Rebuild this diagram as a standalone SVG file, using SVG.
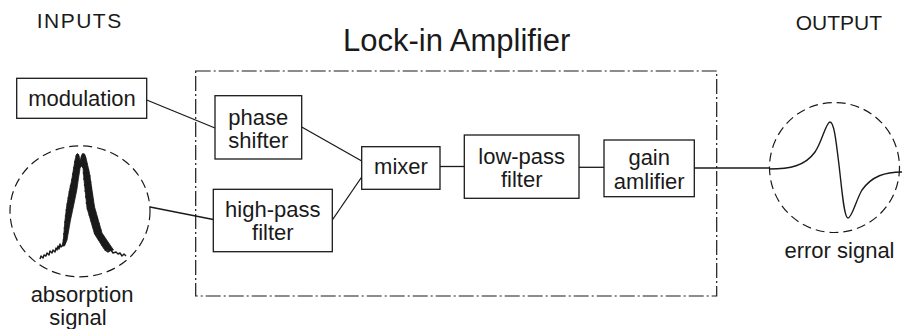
<svg xmlns="http://www.w3.org/2000/svg" width="902" height="329" viewBox="0 0 902 329">
  <style>
    text { font-family: "Liberation Sans", Arial, sans-serif; fill: #1a1a1a; }
    .lbl { font-size: 22px; text-anchor: middle; }
    .head { font-size: 21px; }
    .title { font-size: 31px; }
    .box { fill: #ffffff; stroke: #1a1a1a; stroke-width: 1.3; }
    .wire { fill: none; stroke: #1a1a1a; stroke-width: 1.3; }
    .frame { fill: none; stroke: #1a1a1a; stroke-width: 1.2; stroke-dasharray: 15 3 2 3; }
    .ring { fill: none; stroke: #1a1a1a; stroke-width: 1.2; stroke-dasharray: 9 5; }
    .trace { fill: none; stroke: #1a1a1a; stroke-width: 1.4; stroke-linejoin: round; }
    .band { fill: #1a1a1a; stroke: #1a1a1a; stroke-width: 0.8; stroke-linejoin: round; }
  </style>

  <!-- headings -->
  <text class="head" x="36.7" y="28.3" letter-spacing="1.5">INPUTS</text>
  <text class="head" x="882" y="30" text-anchor="end">OUTPUT</text>
  <text class="title" x="343" y="51">Lock-in Amplifier</text>

  <!-- amplifier enclosure -->
  <rect id="enclosure" class="frame" x="195.7" y="71" width="521" height="225"/>

  <!-- connectors -->
  <g id="connectors">
    <line class="wire" x1="146.7" y1="100" x2="215" y2="128"/>
    <line class="wire" x1="301.7" y1="127" x2="361.7" y2="161"/>
    <line class="wire" x1="332.3" y1="220" x2="361.7" y2="177"/>
    <line class="wire" x1="150" y1="207" x2="213.3" y2="219.5"/>
    <line class="wire" x1="440" y1="166.5" x2="464.3" y2="166.5"/>
    <line class="wire" x1="579" y1="167.3" x2="604" y2="167.3"/>
    <line class="wire" x1="694.3" y1="168" x2="769.5" y2="168"/>
  </g>

  <g id="modulation">
    <rect class="box" x="16.7" y="78.3" width="130" height="40"/>
    <text class="lbl" x="82" y="106">modulation</text>
  </g>

  <g id="phase-shifter">
    <rect class="box" x="215" y="95.7" width="86.7" height="63.3"/>
    <text class="lbl" x="258.3" y="124.5">phase</text>
    <text class="lbl" x="258.3" y="147.5">shifter</text>
  </g>

  <g id="high-pass-filter">
    <rect class="box" x="213.3" y="189.3" width="119" height="62.4"/>
    <text class="lbl" x="272.8" y="216.8">high-pass</text>
    <text class="lbl" x="272.8" y="239.8">filter</text>
  </g>

  <g id="mixer">
    <rect class="box" x="361.7" y="146.7" width="78.3" height="42.6"/>
    <text class="lbl" x="401" y="174.3">mixer</text>
  </g>

  <g id="low-pass-filter">
    <rect class="box" x="464.3" y="135" width="114.7" height="63.3"/>
    <text class="lbl" x="521.7" y="163.8">low-pass</text>
    <text class="lbl" x="521.7" y="186.9">filter</text>
  </g>

  <g id="gain-amplifier">
    <rect class="box" x="604" y="140" width="90.3" height="56.7"/>
    <text class="lbl" x="649.2" y="164.8">gain</text>
    <text class="lbl" x="649.2" y="188.5">amlifier</text>
  </g>

  <!-- noisy absorption peak -->
  <g id="absorption-signal">
    <ellipse class="ring" cx="80" cy="211.3" rx="70" ry="65.5"/>
    <!-- dense noise envelope on both flanks -->
    <polygon class="band" points="62,246 63.3,240 65,220 66.7,206 69.5,190 71.7,180 73.3,170 75,160 76.3,155 77.5,153.5 79,156 80,164 81,157 82.5,153.5 84.5,154 86,158 89.5,173 94.5,206.7 102,233 113.5,250 109,251 104,249 94.5,234 87,208 84,180 83,168 81.5,166 80,168 79.8,170 78.5,178 76.8,190 73.5,206 70.5,220 67,240 64.5,246"/>
    <path class="trace" stroke-width="1.2" d="M40,259 L41,256 43,258 44,255 46,256 47,253 49,255 50,251 52,253 53,250 55,252 56,248 57,250 58,246 59,249 60,244 61,247
      L62,246 65.2,243 63.3,240 66.5,237 63.8,234 67.4,231 64.3,228 68.2,225 64.8,222 69.2,219 65.5,216 70.2,213 66.2,210 71.3,207 67.1,204 72.4,201 68.1,198 73.5,195 69.2,192 74.6,189 70.4,186 75.5,183 71.7,180 76.6,177 72.7,174 77.8,171 73.6,168 78.6,165 74.7,162 79,159 76.2,156
      L77,154.5 78.5,155 79,160 80,166 81,160 82.5,155 84,154.5
      L85.5,158 82.3,161 86.8,164 82.7,167 88.5,170 83.3,173 89.9,176 83.9,179 90.7,182 84.5,185 91.4,188 85.1,191 92.2,194 85.7,197 93,200 86.3,203 93.9,206 87.4,209 95.5,212 89.3,215 97.3,218 91.2,221 99.1,224 93.1,227 100.8,230 95,233 103.2,236 98.5,239 106.3,242 102,245 110,248 105,250
      L108,252 111,250 113,253 116,252 118,254 120,253 122,256 124,254 126,256"/>
    <text class="lbl" x="82" y="301.5">absorption</text>
    <text class="lbl" x="78" y="324.5">signal</text>
  </g>

  <!-- dispersive error signal -->
  <g id="error-signal">
    <circle class="ring" cx="834.5" cy="167.5" r="65"/>
    <path class="trace" d="M769,169 C790,169 805,166 815,152 C822,142 826,122 830,122 C834,122 836,140 839,165 C842,190 844,218 848,218 C852,218 856,200 862,190 C872,176 885,172 902,172"/>
    <text class="lbl" x="839.5" y="258">error signal</text>
  </g>
</svg>
